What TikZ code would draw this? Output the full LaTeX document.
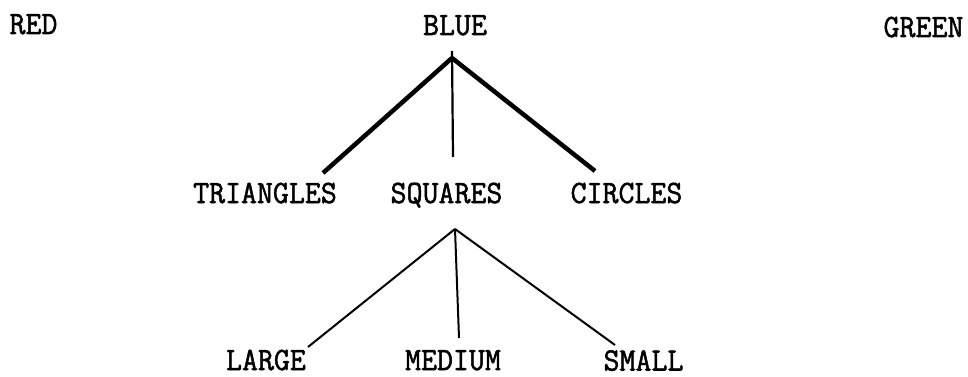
\documentclass[tikz,border=0pt]{standalone}
\usepackage{fontspec}
\usepackage{graphicx}
\newfontfamily\twfont[FakeBold=1.6]{Latin Modern Mono}
\newcommand{\tall}[1]{\scalebox{1}[1.05]{#1}}
\begin{document}
\begin{tikzpicture}[x=1pt,y=-1pt,
  lbl/.style={anchor=base,inner sep=0pt,font=\fontsize{31}{31}\selectfont\twfont},
  heavy/.style={line width=4.5pt},
  thin/.style={line width=2pt}]
\useasboundingbox (0,0) rectangle (968,377);
\node[lbl] (red) at (33.5,34) {\tall{RED}};
\node[lbl] (blue) at (455,35) {\tall{BLUE}};
\node[lbl] (green) at (923.5,37) {\tall{GREEN}};
\node[lbl] (tri) at (265,203) {\tall{TRIANGLES}};
\node[lbl] (sq) at (446.5,203) {\tall{SQUARES}};
\node[lbl] (cir) at (626.5,203) {\tall{CIRCLES}};
\node[lbl] (large) at (266,370) {\tall{LARGE}};
\node[lbl] (medium) at (453,370) {\tall{MEDIUM}};
\node[lbl] (small) at (643.5,370.5) {\tall{SMALL}};
% first fork
\coordinate (top1) at (452,58);
\coordinate (spike1) at (452,51);
\coordinate (e1l) at (323,173);
\coordinate (e1m) at (453,157);
\coordinate (e1r) at (595,171);
\draw[heavy] (top1) -- (e1l);
\draw[heavy] (top1) -- (e1r);
\draw[line width=2.2pt] (spike1) -- (e1m);
% second fork
\coordinate (top2) at (455,229);
\coordinate (e2l) at (308,347);
\coordinate (e2m) at (459,338);
\coordinate (e2r) at (615,345);
\draw[thin] (top2) -- (e2l);
\draw[thin] (top2) -- (e2m);
\draw[thin] (top2) -- (e2r);
\end{tikzpicture}
\end{document}
